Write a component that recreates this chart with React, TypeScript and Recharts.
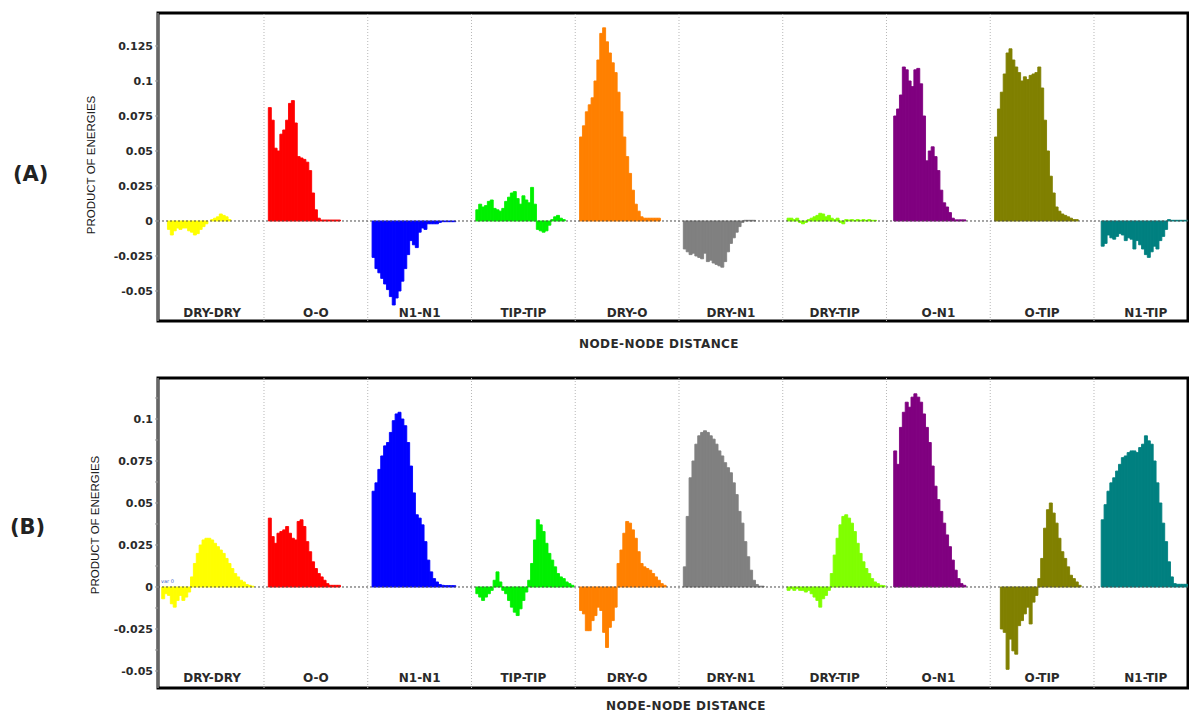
import { BarChart, Bar, Cell, XAxis, YAxis, ReferenceLine, ReferenceArea } from "recharts"

const pairs = ["DRY-DRY", "O-O", "N1-N1", "TIP-TIP", "DRY-O", "DRY-N1", "DRY-TIP", "O-N1", "O-TIP", "N1-TIP"]
const pairColors = ["#ffff00", "#ff0000", "#0000ff", "#00f000", "#ff8000", "#808080", "#80ff00", "#800080", "#808000", "#008080"]

// panel (A): product of energies per distance bin, one array per node pair
const aDryDry = [0, 0, 0, -0.006, -0.01, -0.007, -0.005, -0.006, -0.005, -0.005, -0.007, -0.008, -0.01, -0.009, -0.006, -0.004, -0.002, 0, 0.001, 0.002, 0.003, 0.005, 0.004, 0.003, 0.001]
const aOO = [0, 0, 0.081, 0.072, 0.052, 0.05, 0.062, 0.065, 0.072, 0.084, 0.086, 0.07, 0.046, 0.045, 0.044, 0.042, 0.036, 0.02, 0.008, 0.002, 0.0007, 0.0007, 0.0007, 0.0007, 0.0007, 0.0007, 0.0007]
const aN1N1 = [0, 0, -0.026, -0.034, -0.037, -0.041, -0.045, -0.049, -0.054, -0.06, -0.055, -0.05, -0.043, -0.034, -0.024, -0.014, -0.017, -0.019, -0.008, -0.005, -0.006, -0.002, -0.002, -0.002, -0.002, -0.001, -0.0005, -0.0005, -0.0005, -0.0005, -0.0005]
const aTipTip = [0, 0, 0.008, 0.012, 0.01, 0.011, 0.014, 0.015, 0.009, 0.008, 0.007, 0.009, 0.014, 0.017, 0.02, 0.021, 0.016, 0.012, 0.018, 0.015, 0.013, 0.024, 0.012, -0.006, -0.007, -0.008, -0.007, -0.003, 0.001, 0.003, 0.004, 0.002, 0.001]
const aDryO = [0, 0, 0.06, 0.068, 0.078, 0.083, 0.088, 0.1, 0.115, 0.134, 0.138, 0.128, 0.12, 0.113, 0.106, 0.092, 0.078, 0.06, 0.046, 0.034, 0.022, 0.012, 0.007, 0.003, 0.002, 0.002, 0.002, 0.002, 0.002, 0.002]
const aDryN1 = [0, 0, -0.02, -0.022, -0.024, -0.023, -0.025, -0.026, -0.027, -0.023, -0.029, -0.028, -0.03, -0.031, -0.032, -0.033, -0.029, -0.022, -0.016, -0.012, -0.008, -0.004, -0.001, 0.0005, 0.0005, 0.0005, 0.0005]
const aDryTip = [0, 0, 0.002, 0.002, 0.001, 0.002, -0.001, -0.002, -0.001, 0.001, 0.002, 0.003, 0.004, 0.0055, 0.005, 0.003, 0.004, 0.002, 0.001, 0.002, -0.001, -0.002, 0.001, 0.0007, 0.001, 0.0005, 0.001, 0.0005, 0.001, 0.0005, 0.001, 0.0005, 0.0005]
const aON1 = [0, 0, 0, 0.075, 0.08, 0.09, 0.11, 0.108, 0.1, 0.096, 0.108, 0.109, 0.098, 0.075, 0.043, 0.05, 0.053, 0.046, 0.036, 0.022, 0.013, 0.01, 0.006, 0.002, 0.0008, 0.0008, 0.0008, 0.0008]
const aOTip = [0, 0, 0.06, 0.08, 0.092, 0.105, 0.12, 0.123, 0.115, 0.11, 0.106, 0.1, 0.103, 0.101, 0.104, 0.105, 0.106, 0.11, 0.095, 0.072, 0.05, 0.032, 0.02, 0.01, 0.007, 0.005, 0.004, 0.003, 0.002, 0.001, 0.001]
const aN1Tip = [0, 0, 0, -0.018, -0.016, -0.01, -0.012, -0.013, -0.011, -0.009, -0.01, -0.014, -0.012, -0.013, -0.02, -0.014, -0.017, -0.02, -0.024, -0.026, -0.022, -0.018, -0.02, -0.014, -0.011, -0.006, 0.001, 0.0005, 0.0005, 0.0005, 0.0005, 0.0005, 0.0005]

// panel (B)
const bDryDry = [0, -0.007, -0.004, -0.005, -0.01, -0.012, -0.008, -0.005, -0.008, -0.006, -0.003, 0.006, 0.014, 0.02, 0.025, 0.028, 0.029, 0.029, 0.028, 0.026, 0.024, 0.022, 0.02, 0.017, 0.014, 0.011, 0.008, 0.006, 0.004, 0.003, 0.0015, 0.001, 0.0005]
const bOO = [0, 0, 0.041, 0.03, 0.026, 0.032, 0.033, 0.034, 0.036, 0.032, 0.029, 0.028, 0.039, 0.04, 0.036, 0.027, 0.021, 0.015, 0.011, 0.008, 0.006, 0.004, 0.002, 0.001, 0.001, 0.001, 0.001]
const bN1N1 = [0, 0, 0.057, 0.062, 0.07, 0.078, 0.084, 0.086, 0.092, 0.099, 0.103, 0.104, 0.1, 0.096, 0.086, 0.072, 0.056, 0.043, 0.041, 0.037, 0.027, 0.016, 0.009, 0.005, 0.003, 0.0015, 0.001, 0.0008, 0.0008, 0.0008, 0.0008]
const bTipTip = [0, 0, -0.004, -0.006, -0.008, -0.006, -0.004, -0.002, 0.004, 0.009, 0.003, -0.002, -0.004, -0.008, -0.012, -0.015, -0.017, -0.013, -0.008, -0.003, 0.004, 0.014, 0.028, 0.04, 0.037, 0.033, 0.026, 0.02, 0.016, 0.012, 0.008, 0.006, 0.005, 0.003, 0.002, 0.001]
const bDryO = [0, 0, -0.014, -0.016, -0.026, -0.026, -0.02, -0.017, -0.012, -0.014, -0.027, -0.036, -0.024, -0.02, -0.012, 0.014, 0.022, 0.032, 0.039, 0.038, 0.034, 0.029, 0.021, 0.014, 0.012, 0.011, 0.01, 0.008, 0.006, 0.004, 0.002, 0.001]
const bDryN1 = [0, 0, 0.012, 0.042, 0.065, 0.075, 0.085, 0.09, 0.092, 0.093, 0.092, 0.09, 0.088, 0.085, 0.081, 0.078, 0.074, 0.071, 0.068, 0.062, 0.055, 0.045, 0.038, 0.027, 0.018, 0.01, 0.004, 0.0015, 0.0005, 0.0005]
const bDryTip = [0, 0, -0.002, -0.001, -0.002, -0.001, -0.002, -0.002, -0.003, -0.002, -0.004, -0.006, -0.008, -0.012, -0.007, -0.005, -0.002, 0.008, 0.019, 0.029, 0.037, 0.042, 0.043, 0.041, 0.038, 0.033, 0.026, 0.02, 0.015, 0.011, 0.008, 0.005, 0.003, 0.002, 0.001, 0.0008]
const bON1 = [0, 0, 0, 0.081, 0.073, 0.095, 0.104, 0.11, 0.107, 0.113, 0.115, 0.113, 0.11, 0.103, 0.095, 0.086, 0.072, 0.06, 0.052, 0.045, 0.038, 0.031, 0.024, 0.016, 0.01, 0.005, 0.002, 0.001]
const bOTip = [0, 0, 0, 0, -0.025, -0.027, -0.049, -0.031, -0.038, -0.04, -0.023, -0.02, -0.016, -0.012, -0.022, -0.009, -0.005, 0.005, 0.017, 0.035, 0.046, 0.05, 0.044, 0.038, 0.029, 0.021, 0.017, 0.012, 0.007, 0.005, 0.003, 0.001]
const bN1Tip = [0, 0, 0, 0.04, 0.049, 0.057, 0.062, 0.065, 0.069, 0.073, 0.077, 0.078, 0.08, 0.081, 0.081, 0.08, 0.083, 0.085, 0.09, 0.087, 0.085, 0.075, 0.062, 0.05, 0.038, 0.027, 0.015, 0.006, 0.002, 0.0016, 0.0016, 0.0016, 0.0016]

const ticksA = [-0.05, -0.025, 0, 0.025, 0.05, 0.075, 0.1, 0.125]
const ticksB = [-0.05, -0.0375, -0.025, -0.0125, 0, 0.0125, 0.025, 0.0375, 0.05, 0.0625, 0.075, 0.0875, 0.1, 0.1125]

const SLOTS = 36 // bins per pair block (first one is the gap at the divider)
const X_DOMAIN: [number, number] = [-0.78, 356.62]
const groupCenters = pairs.map((_, k) => k * SLOTS + 18)
const dividers = pairs.slice(1).map((_, k) => (k + 1) * SLOTS)
const FONT = "DejaVu Sans, Verdana, sans-serif"

function toRows(groups: number[][]) {
  return groups.flatMap((vals, k) => vals.map((v, j) => ({ x: k * SLOTS + j, v, k })))
}

function fmtTick(v: number) {
  const r = v / 0.025
  return Math.abs(r - Math.round(r)) < 1e-6 ? String(v) : ""
}

function Panel({ groups, ticks, domain, height, top, bottom, labelLift }: {
  groups: number[][]
  ticks: number[]
  domain: [number, number]
  height: number
  top: number
  bottom: number
  labelLift: number
}) {
  const rows = toRows(groups)
  const PairTick = (props: any) => {
    const k = Math.round((props.payload.value - 18) / SLOTS)
    return (
      <text x={props.x} y={props.y - labelLift} textAnchor="middle" fontFamily={FONT} fontWeight={700} fontSize={12} fill="#2a2a2a">
        {pairs[k]}
      </text>
    )
  }
  return (
    <BarChart width={1189} height={height} data={rows} margin={{ top, right: 1, bottom, left: 98 }} barCategoryGap={0} barGap={0}>
      <XAxis type="number" dataKey="x" domain={X_DOMAIN} allowDataOverflow ticks={groupCenters} interval={0}
        tick={PairTick} tickLine={false} axisLine={false} height={1} tickSize={0} tickMargin={0} />
      <YAxis type="number" domain={domain} allowDataOverflow ticks={ticks} interval={0} tickFormatter={fmtTick} width={60}
        tick={{ fill: "#2a2a2a", fontSize: 11, fontWeight: 700, fontFamily: FONT }}
        axisLine={{ stroke: "#cccccc" }} tickLine={{ stroke: "#999999" }} tickSize={3} tickMargin={2} />
      {dividers.map((d) => (
        <ReferenceLine key={d} x={d} stroke="#b8b8b8" strokeDasharray="1 2" />
      ))}
      <Bar dataKey="v" isAnimationActive={false}>
        {rows.map((r, i) => (
          <Cell key={i} fill={pairColors[r.k]} stroke={pairColors[r.k]} strokeWidth={0.9} />
        ))}
      </Bar>
      <ReferenceLine y={0} stroke="#4a4a4a" strokeDasharray="2 2" />
      <ReferenceArea x1={X_DOMAIN[0]} x2={X_DOMAIN[1]} y1={domain[0]} y2={domain[1]} fill="none" fillOpacity={0}
        stroke="#000" strokeWidth={3} ifOverflow="visible" />
    </BarChart>
  )
}

export default function App() {
  return (
    <div style={{ position: "absolute", left: 0, top: 0, width: 1189, height: 712, background: "#fff" }}>
      <div style={{ position: "absolute", left: 0, top: 0 }}>
        <Panel groups={[aDryDry, aOO, aN1N1, aTipTip, aDryO, aDryN1, aDryTip, aON1, aOTip, aN1Tip]}
          ticks={ticksA} domain={[-0.07143, 0.14857]} height={330} top={13} bottom={8} labelLift={4} />
      </div>
      <div style={{ position: "absolute", left: 0, top: 365 }}>
        <Panel groups={[bDryDry, bOO, bN1N1, bTipTip, bDryO, bDryN1, bDryTip, bON1, bOTip, bN1Tip]}
          ticks={ticksB} domain={[-0.06012, 0.1244]} height={330} top={13} bottom={6} labelLift={6} />
      </div>
      <svg width={1189} height={712} style={{ position: "absolute", left: 0, top: 0, pointerEvents: "none" }}>
        <text x={13} y={180.5} fontFamily={FONT} fontWeight={700} fontSize={21} fill="#222">(A)</text>
        <text x={10} y={534} fontFamily={FONT} fontWeight={700} fontSize={21} fill="#222">(B)</text>
        <text transform="translate(95,165) rotate(-90)" textAnchor="middle" fontFamily="Liberation Sans, Arial, sans-serif" fontSize={11.5} fill="#151515">PRODUCT OF ENERGIES</text>
        <text transform="translate(99,525) rotate(-90)" textAnchor="middle" fontFamily="Liberation Sans, Arial, sans-serif" fontSize={11.5} fill="#151515">PRODUCT OF ENERGIES</text>
        <text x={659} y={348} textAnchor="middle" fontFamily={FONT} fontWeight={700} fontSize={12} letterSpacing={0.4} fill="#2a2a2a">NODE-NODE DISTANCE</text>
        <text x={686} y={710} textAnchor="middle" fontFamily={FONT} fontWeight={700} fontSize={12} letterSpacing={0.4} fill="#2a2a2a">NODE-NODE DISTANCE</text>
        <text x={161} y={583} fontFamily={FONT} fontSize={5} fill="#3a5ccc">var 0</text>
      </svg>
    </div>
  )
}
